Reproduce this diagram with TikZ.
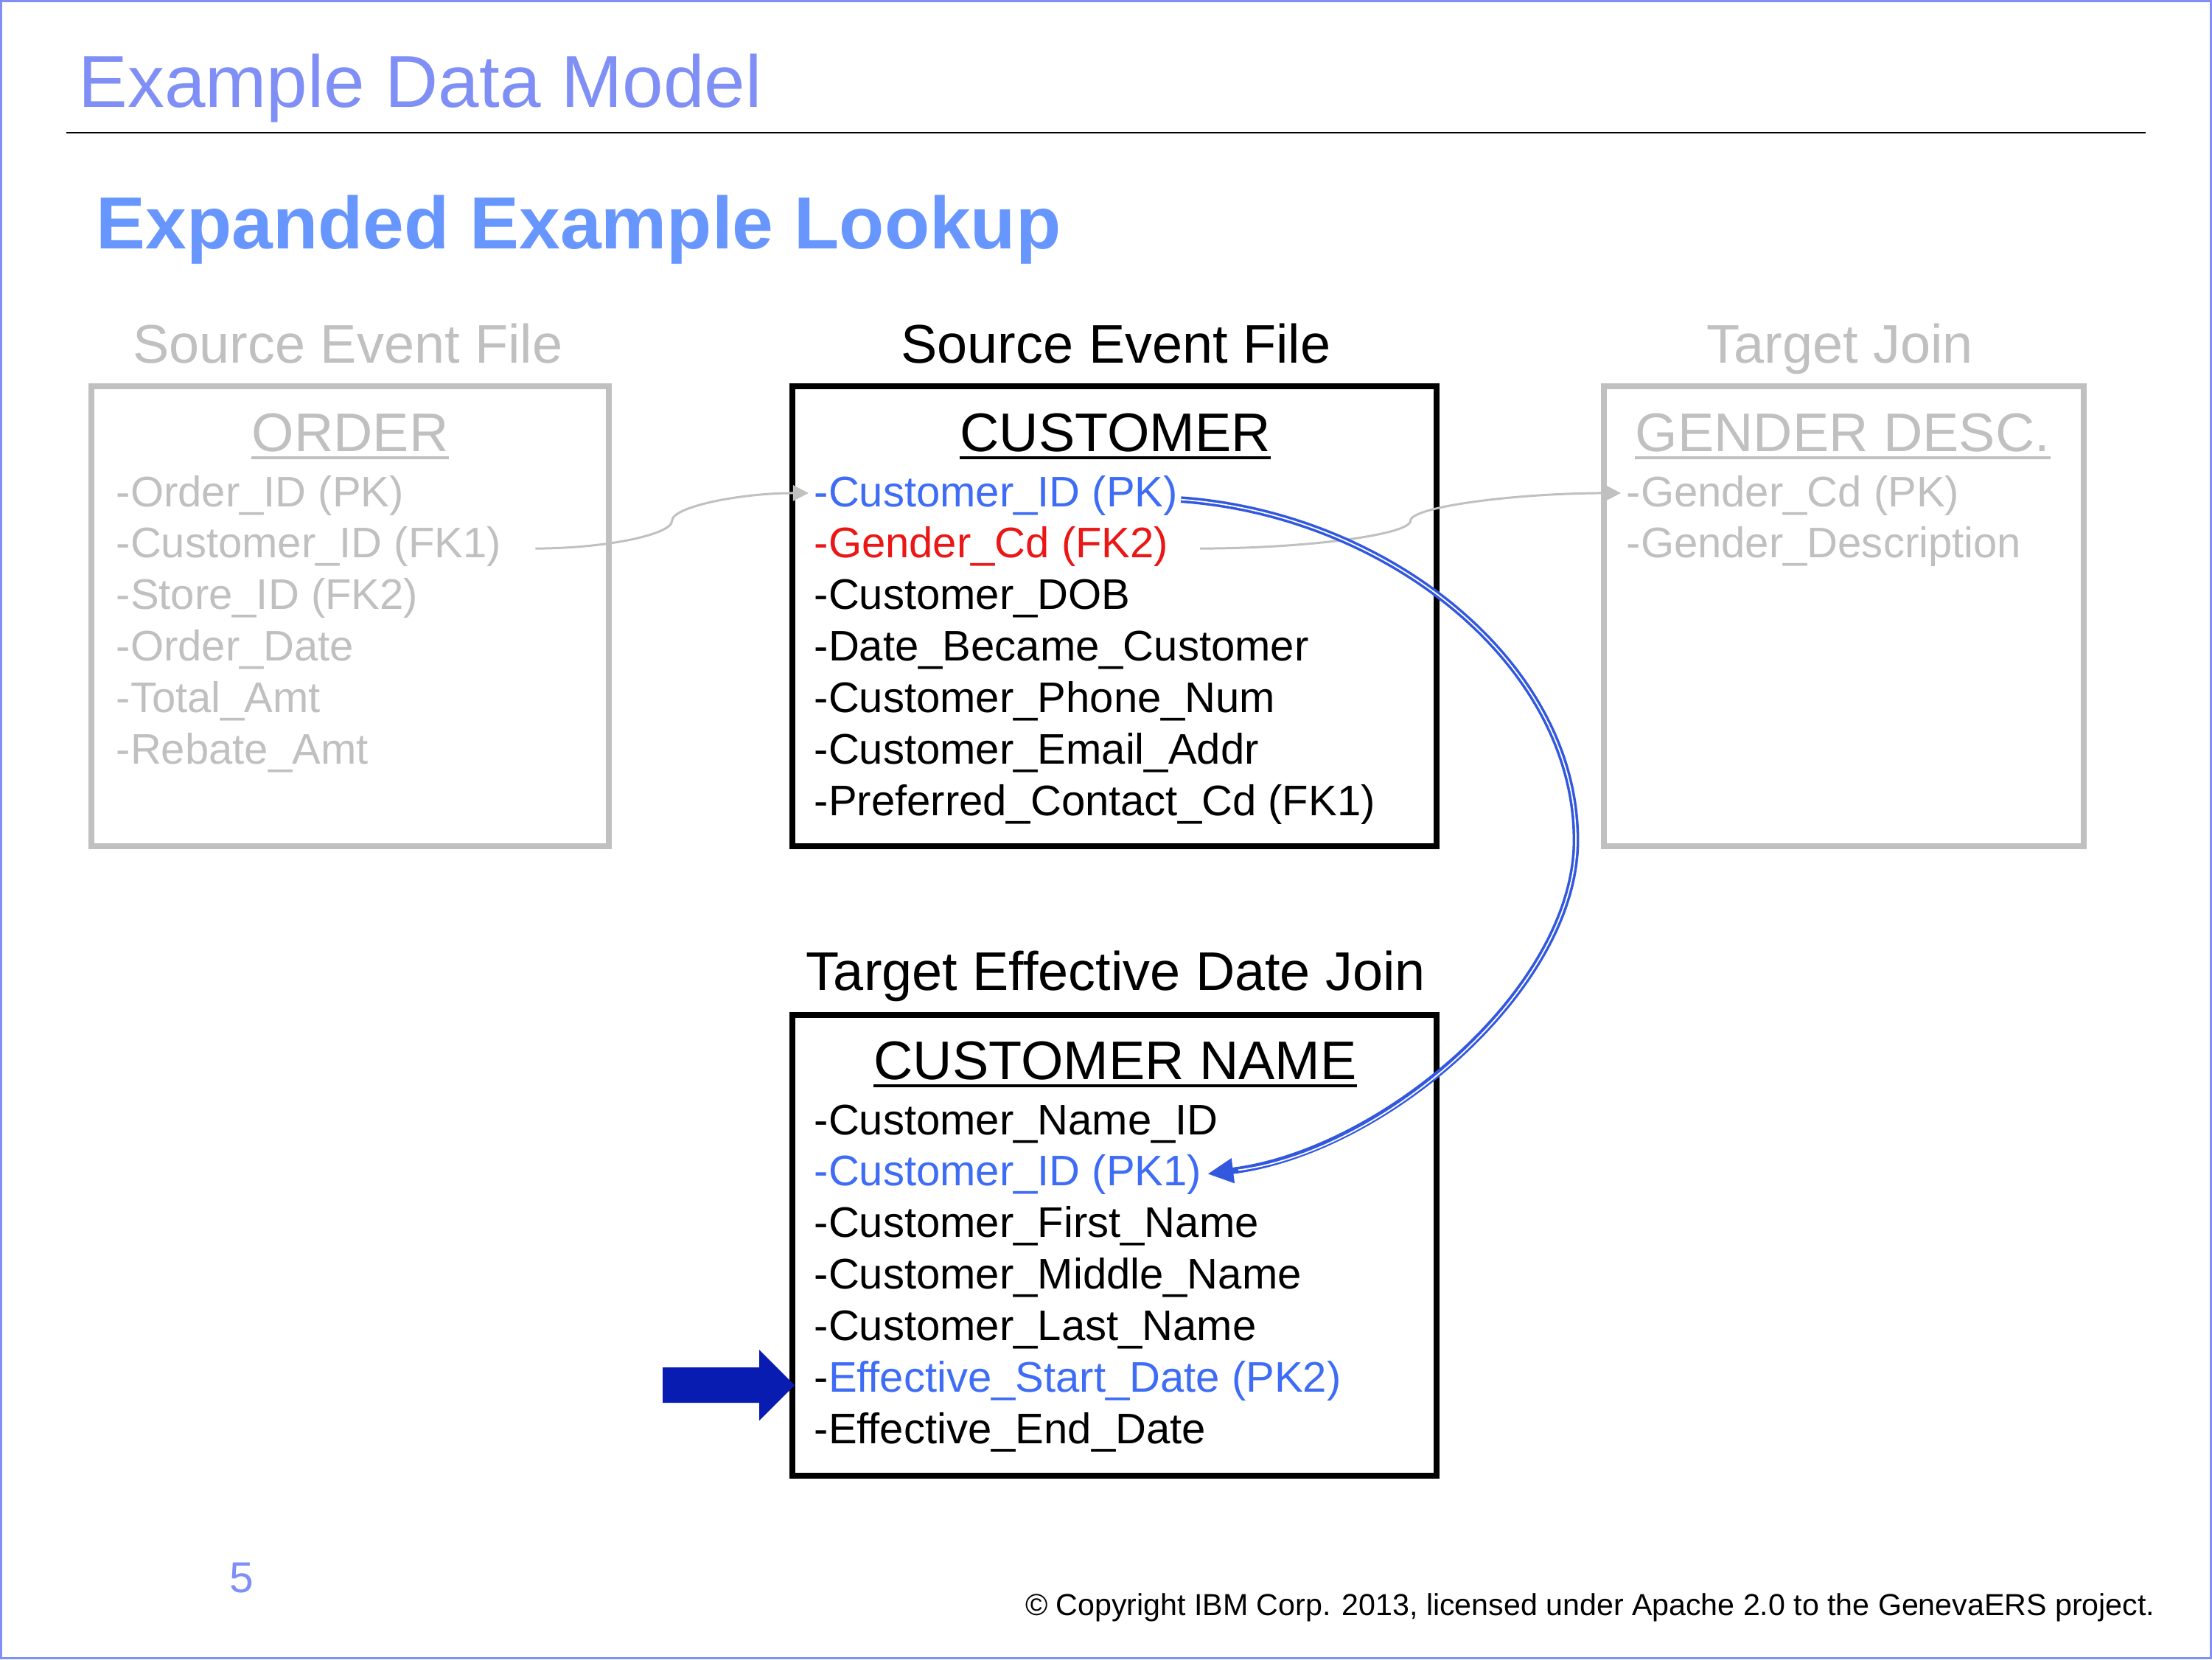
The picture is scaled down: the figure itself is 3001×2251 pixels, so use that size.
\documentclass[tikz,border=0pt]{standalone}
\usepackage{fontspec}
\setmainfont{Liberation Sans}
\usetikzlibrary{arrows.meta,calc}

\definecolor{slideblue}{RGB}{127,143,245}
\definecolor{headblue}{RGB}{104,150,255}
\definecolor{keyblue}{RGB}{62,108,245}
\definecolor{fkred}{RGB}{235,22,22}
\definecolor{faded}{RGB}{192,192,192}
\definecolor{pointblue}{RGB}{8,28,178}
\definecolor{linkblue}{RGB}{50,88,222}

\tikzset{
  tbl/.style={line width=2.2pt},
  hdr/.style={anchor=base, inner sep=0pt, font=\fontsize{21}{25}\selectfont},
  field/.style={anchor=base west, inner sep=0pt, font=\fontsize{16.5}{19.9}\selectfont},
  link/.style={faded, line width=0.85pt, -{Triangle[length=6pt,width=6pt]}},
  lookup/.style={linkblue, line width=2.5pt, -{Triangle[length=10pt,width=9pt]},
    postaction={draw=white, line width=0.5pt, -, shorten >=12pt}},
}

\begin{document}
\begin{tikzpicture}[x=0.01cm, y=-0.01cm]
    \useasboundingbox (0,0) rectangle (3001,2251);
    \draw[slideblue, line width=0.85pt] (1.5,1.5) rectangle (2999.5,2249.5);

    \node[anchor=base west, inner sep=0pt, slideblue, font=\fontsize{28.4}{34}\selectfont] (title) at (106,145) {Example Data Model};
    \draw[line width=0.75pt] (90,180) -- (2911,180);
    \node[anchor=base west, inner sep=0pt, headblue, font=\fontsize{28.5}{34}\selectfont\bfseries] (sub) at (130,337) {Expanded Example Lookup};

    \node[hdr, faded] (hleft) at (472,492) {Source Event File};
    \node[hdr] (hmid) at (1514,492) {Source Event File};
    \node[hdr, faded] (hright) at (2496,492) {Target Join};
    \node[hdr] (hbot) at (1514,1343) {Target Effective Date Join};

    \draw[tbl, faded] (124,524) rectangle (826,1148);
    \draw[tbl] (1075,524) rectangle (1949,1148);
    \draw[tbl, faded] (2176,524) rectangle (2827,1148);
    \draw[tbl] (1075,1377) rectangle (1949,2002);

    \node[hdr, faded] (ordr) at (475,612) {ORDER};
    \node[hdr] (cust) at (1513,612) {CUSTOMER};
    \node[hdr, faded] (gend) at (2500,612) {GENDER DESC.};
    \node[hdr] (cname) at (1513,1464) {CUSTOMER NAME};
    \foreach \t/\c in {ordr/faded, cust/black, gend/faded, cname/black}
        \draw[\c, line width=1.1pt] ([yshift=-2.6pt]\t.base west) -- ([yshift=-2.6pt]\t.base east);

    \foreach \f [count=\i] in {-Order\_ID (PK), -Customer\_ID (FK1), -Store\_ID (FK2), -Order\_Date, -Total\_Amt, -Rebate\_Amt}
        \node[field, faded] (o\i) at (157, {687+(\i-1)*69.9}) {\f};
    \foreach \f [count=\i] in {\textcolor{keyblue}{-Customer\_ID (PK)}, \textcolor{fkred}{-Gender\_Cd (FK2)}, -Customer\_DOB, -Date\_Became\_Customer, -Customer\_Phone\_Num, -Customer\_Email\_Addr, -Preferred\_Contact\_Cd (FK1)}
        \node[field] (c\i) at (1104, {687+(\i-1)*69.9}) {\f};
    \foreach \f [count=\i] in {-Gender\_Cd (PK), -Gender\_Description}
        \node[field, faded] (g\i) at (2206, {687+(\i-1)*69.9}) {\f};
    \foreach \f [count=\i] in {-Customer\_Name\_ID, \textcolor{keyblue}{-Customer\_ID (PK1)}, -Customer\_First\_Name, -Customer\_Middle\_Name, -Customer\_Last\_Name, -\textcolor{keyblue}{Effective\_Start\_Date (PK2)}, -Effective\_End\_Date}
        \node[field] (n\i) at (1104, {1539+(\i-1)*69.9}) {\f};

    \coordinate (o2out) at ([xshift=13pt,yshift=1pt]o2.mid east);
    \coordinate (c1in) at ([xshift=-2pt,yshift=2.5pt]c1.mid west);
    \coordinate (lmid) at ($(o2out)!.5!(c1in)$);
    \draw[link] (o2out) .. controls +(93,0) and +(0,19) .. (lmid) .. controls +(0,-19) and +(-93,0) .. (c1in);

    \coordinate (c2out) at ([xshift=12pt,yshift=1pt]c2.mid east);
    \coordinate (g1in) at ([xshift=-2pt,yshift=2.5pt]g1.mid west);
    \coordinate (rmid) at ($(c2out)!.5!(g1in)$);
    \draw[link] (c2out) .. controls +(142,0) and +(0,19) .. (rmid) .. controls +(0,-19) and +(-142,0) .. (g1in);

    \coordinate (bend) at (2138,1140);
    \draw[lookup] ([xshift=1pt]c1.mid east) .. controls +(280,20) and +(0,-240) .. (bend) .. controls +(0,200) and +(240,-30) .. ([xshift=2pt,yshift=2pt]n2.mid east);

    \coordinate (tip) at ($(n6.mid west)+(-26,0)$);
    \fill[pointblue] (tip) -- ++(-48,-48) -- ++(0,24) -- ++(-131,0) -- ++(0,48) -- ++(131,0) -- ++(0,24) -- cycle;

    \node[anchor=base, inner sep=0pt, slideblue, font=\fontsize{16.7}{20}\selectfont] (pgno) at (328,2160) {5};
    \node[anchor=base east, inner sep=0pt, font=\fontsize{11.7}{14}\selectfont] (copy) at (2924,2191) {© Copyright IBM Corp. 2013, licensed under Apache 2.0 to the GenevaERS project.};
\end{tikzpicture}
\end{document}
